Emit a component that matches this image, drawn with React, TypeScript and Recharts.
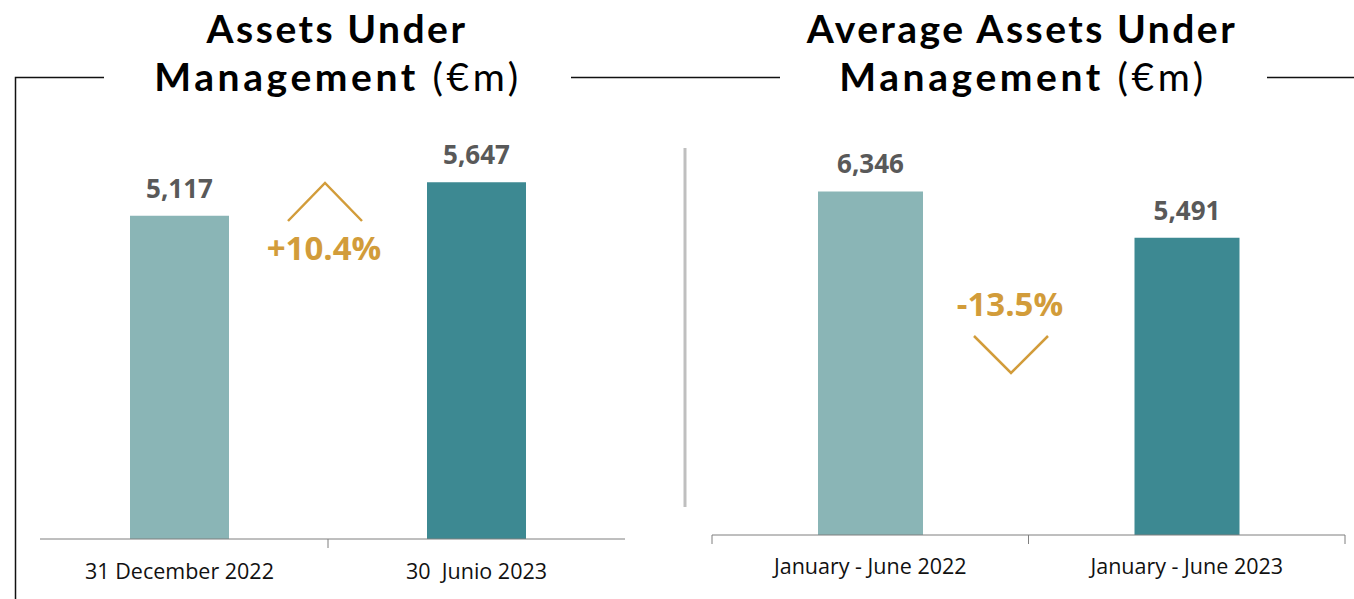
import React from 'react';
import { BarChart, Bar, XAxis, YAxis, Cell, LabelList } from 'recharts';

const aumCategories = ['31 December 2022', '30  Junio 2023'];
const aumValues = [5117, 5647];
const avgCategories = ['January - June 2022', 'January - June 2023'];
const avgValues = [6346, 5491];
const barColors = ['#8AB5B6', '#3D8992'];
const aumChange = '+10.4%';
const avgChange = '-13.5%';
const aumTitle = ['Assets Under', 'Management', '(€m)'];
const avgTitle = ['Average Assets Under', 'Management', '(€m)'];

const aumData = aumCategories.map((c, i) => ({ category: c, value: aumValues[i] }));
const avgData = avgCategories.map((c, i) => ({ category: c, value: avgValues[i] }));

const FONT = "'Open Sans', sans-serif";
const TITLE_FONT = "Lato, 'Open Sans', sans-serif";
const GOLD = '#D29C3A';
const AXIS = '#7F7F7F';

const fmt = (v: any) => Number(v).toLocaleString('en-US');

function makeTick(bw: number, all: boolean, dy: number) {
  return (props: any) => {
    const { x, y, payload, index } = props;
    const marks: number[] = [];
    if (all && index === 0) marks.push(x - bw / 2);
    if (index === 0) marks.push(x + bw / 2);
    if (all && index === 1) marks.push(x + bw / 2);
    return (
      <g>
        {marks.map((mx, i) => (
          <line key={i} x1={mx} x2={mx} y1={y} y2={y + 9} stroke={AXIS} strokeWidth={1} />
        ))}
        <text
          x={x}
          y={y + dy}
          textAnchor="middle"
          fontFamily={FONT}
          fontSize={21.5}
          fill="#111"
          style={{ whiteSpace: 'pre' }}
        >
          {payload.value}
        </text>
      </g>
    );
  };
}

const labelStyle = {
  fill: '#595959',
  fontSize: 26,
  fontWeight: 700,
  fontFamily: FONT,
};

function Title({ x, lines }: { x: number; lines: string[] }) {
  const common = {
    textAnchor: 'middle' as const,
    fontFamily: TITLE_FONT,
    fontSize: 39,
    fill: '#000',
  };
  return (
    <g>
      <text x={x + 1} y={43} fontWeight={700} letterSpacing={2.5} {...common}>
        {lines[0]}
      </text>
      <text x={x + 2} y={91} letterSpacing={3.6} {...common}>
        <tspan fontWeight={700}>{lines[1]}</tspan>
        <tspan fontWeight={400}>{' ' + lines[2]}</tspan>
      </text>
    </g>
  );
}

export default function App() {
  return (
    <div style={{ position: 'absolute', left: 0, top: 0, width: 1354, height: 599, background: '#fff' }}>
      <div style={{ position: 'absolute', left: 0, top: 0 }}>
        <BarChart
          width={660}
          height={599}
          data={aumData}
          margin={{ top: 160, right: 35, bottom: 20, left: 40 }}
        >
          <YAxis hide domain={[0, 6000]} />
          <XAxis
            dataKey="category"
            height={40}
            padding={{ left: -9, right: 0 }}
            tickLine={false}
            tickSize={0}
            tickMargin={0}
            axisLine={{ stroke: AXIS, strokeWidth: 1 }}
            interval={0}
            tick={makeTick(297, false, 40)}
          />
          <Bar dataKey="value" barSize={99} isAnimationActive={false}>
            {aumData.map((_, i) => (
              <Cell key={i} fill={barColors[i]} />
            ))}
            <LabelList dataKey="value" position="top" offset={18} formatter={fmt} {...labelStyle} />
          </Bar>
        </BarChart>
      </div>
      <div style={{ position: 'absolute', left: 680, top: 0 }}>
        <BarChart
          width={674}
          height={599}
          data={avgData}
          margin={{ top: 156, right: 9, bottom: 24, left: 32 }}
        >
          <YAxis hide domain={[0, 7000]} />
          <XAxis
            dataKey="category"
            height={40}
            tickLine={false}
            tickSize={0}
            tickMargin={0}
            axisLine={{ stroke: AXIS, strokeWidth: 1 }}
            interval={0}
            tick={makeTick(316.5, true, 39)}
          />
          <Bar dataKey="value" barSize={105} isAnimationActive={false}>
            {avgData.map((_, i) => (
              <Cell key={i} fill={barColors[i]} />
            ))}
            <LabelList dataKey="value" position="top" offset={18} formatter={fmt} {...labelStyle} />
          </Bar>
        </BarChart>
      </div>
      <svg
        width={1354}
        height={599}
        style={{ position: 'absolute', left: 0, top: 0, pointerEvents: 'none' }}
      >
        <polyline points="15.5,599 15.5,77.5 104,77.5" fill="none" stroke="#111" strokeWidth={1.5} />
        <line x1={571} x2={780} y1={77.5} y2={77.5} stroke="#111" strokeWidth={1.5} />
        <line x1={1267} x2={1354} y1={77.5} y2={77.5} stroke="#111" strokeWidth={1.5} />
        <line x1={685} x2={685} y1={148} y2={507} stroke="#BFBFBF" strokeWidth={3} />

        <Title x={336} lines={aumTitle} />
        <Title x={1021} lines={avgTitle} />

        <polyline points="288,221 325,183 362,221" fill="none" stroke={GOLD} strokeWidth={2.5} />
        <text x={324} y={260} textAnchor="middle" fontFamily={FONT} fontSize={33} fontWeight={700} fill={GOLD}>
          {aumChange}
        </text>
        <text x={1010} y={316} textAnchor="middle" fontFamily={FONT} fontSize={33} fontWeight={700} fill={GOLD}>
          {avgChange}
        </text>
        <polyline points="974,336 1011,373 1048,336" fill="none" stroke={GOLD} strokeWidth={2.5} />
      </svg>
    </div>
  );
}
